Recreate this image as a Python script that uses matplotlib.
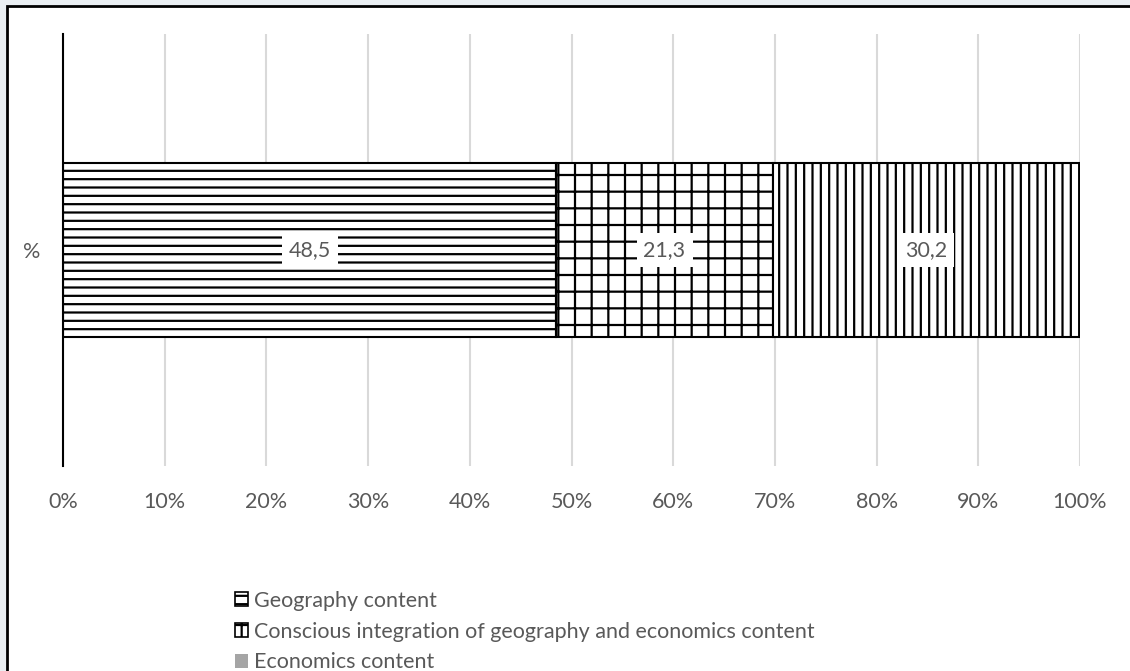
import numpy as np
import matplotlib.pyplot as plt
import matplotlib.patches as mpatches

plt.rcParams['font.family'] = ['Lato', 'DejaVu Sans']
plt.rcParams['hatch.linewidth'] = 1.6

categories = ['%']
series = ['Geography content',
          'Conscious integration of geography and economics content',
          'Economics content']
values = [48.5, 21.3, 30.2]
hatches = ['--', '+', '||']
xticks = [0, 10, 20, 30, 40, 50, 60, 70, 80, 90, 100]
xlabels = ['%d%%' % t for t in xticks]

txt = '#595959'
fs = 15.5
fig = plt.figure(figsize=(11.3, 6.71), dpi=100, facecolor='#e9eef2')
# white chart box with black border
fig.patches.append(mpatches.Rectangle((7/1130, -0.02), 1.05, 1 - 6/671 + 0.02,
                                      transform=fig.transFigure, facecolor='white',
                                      edgecolor='black', linewidth=2, zorder=-5))

ax1 = fig.add_axes([63/1130, 1 - 466/671, 1017/1130, 432/671])
ax1.set_facecolor('none')

left = 0
for v, h in zip(values, hatches):
    ax1.barh(0, v, left=left, height=0.403, color='white', edgecolor='black',
             hatch=h, linewidth=1.5, zorder=3)
    ax1.text(left + v/2, 0, ('%.1f' % v).replace('.', ','), ha='center', va='center',
             fontsize=fs, color=txt, zorder=5,
             bbox=dict(facecolor='white', edgecolor='none', pad=5))
    left += v

ax1.set_xlim(0, 100)
ax1.set_ylim(-0.5, 0.5)
ax1.set_xticks(xticks)
ax1.set_xticklabels(xlabels)
ax1.set_yticks([0])
ax1.set_yticklabels(categories)
ax1.tick_params(axis='both', length=0, labelsize=fs, labelcolor=txt)
ax1.tick_params(axis='x', pad=19)
ax1.tick_params(axis='y', pad=16)
ax1.grid(True, axis='x', color='#d9d9d9', linewidth=1.5, zorder=0)
for s in ['top', 'right', 'bottom']:
    ax1.spines[s].set_visible(False)
ax1.spines['left'].set_linewidth(1.5)
ax1.spines['left'].set_zorder(4)

handles = [mpatches.Patch(facecolor='white', edgecolor='black', hatch='--', linewidth=1.2),
           mpatches.Patch(facecolor='white', edgecolor='black', hatch='+', linewidth=1.2),
           mpatches.Patch(facecolor='#a5a5a5', edgecolor='none')]
fig.legend(handles, series, loc='upper left', bbox_to_anchor=(224/1130, 1 - 580/671),
           frameon=False, fontsize=fs, labelcolor=txt, handlelength=0.6,
           handleheight=0.6, handletextpad=0.3, labelspacing=0.5, borderpad=0)

fig.savefig('out.png', dpi=100, facecolor=fig.get_facecolor())
